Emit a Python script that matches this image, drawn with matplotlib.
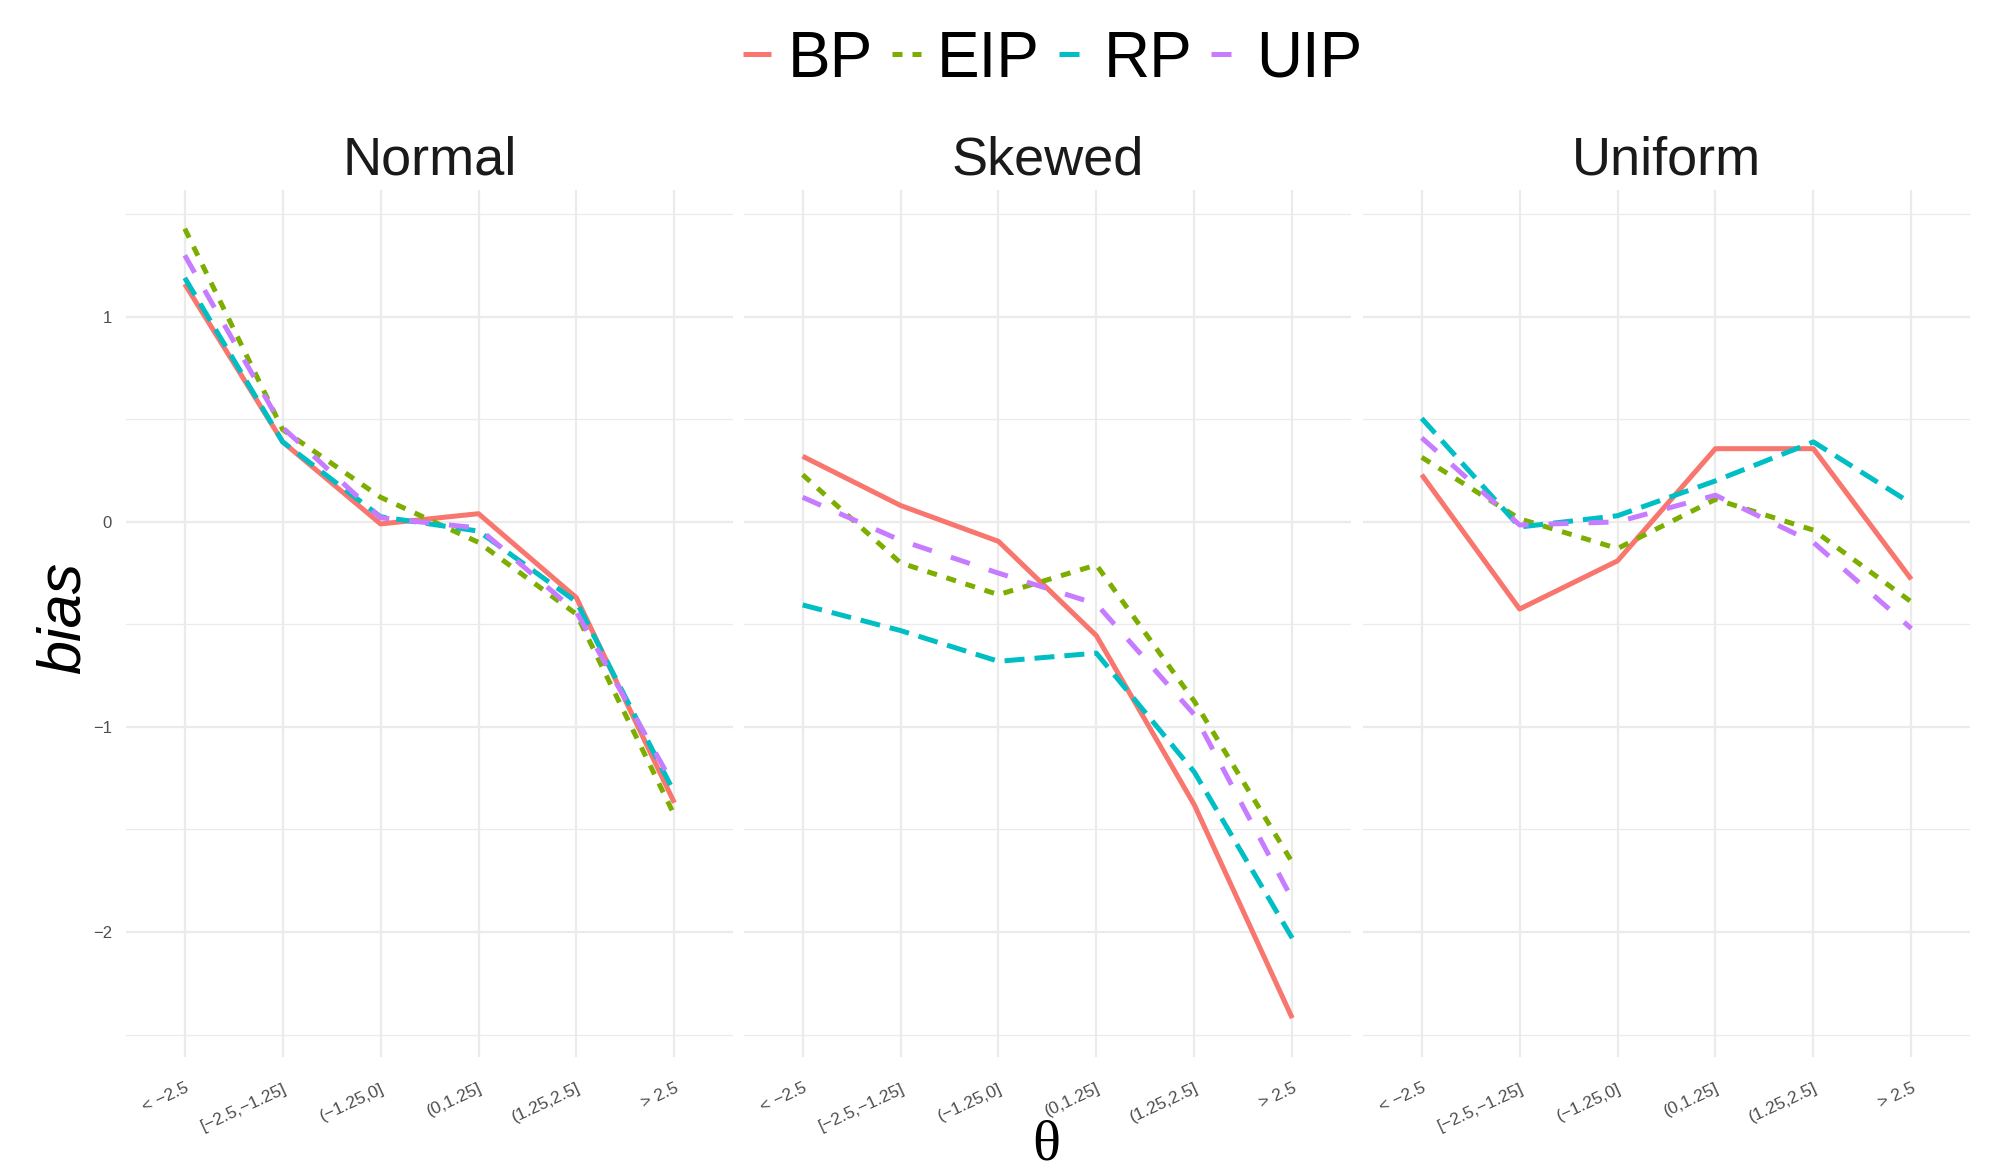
import matplotlib
matplotlib.use("Agg")
import matplotlib.pyplot as plt
from matplotlib.lines import Line2D
import numpy as np

plt.rcParams["font.family"] = ["Liberation Sans", "DejaVu Sans"]

categories = ["< \u22122.5", "[\u22122.5,\u22121.25]", "(\u22121.25,0]", "(0,1.25]", "(1.25,2.5]", "> 2.5"]
panels = ["Normal", "Skewed", "Uniform"]
methods = ["BP", "EIP", "RP", "UIP"]

normal_BP = [1.16, 0.39, -0.01, 0.04, -0.37, -1.37]
normal_EIP = [1.43, 0.45, 0.12, -0.10, -0.45, -1.43]
normal_RP = [1.19, 0.39, 0.025, -0.045, -0.39, -1.32]
normal_UIP = [1.30, 0.46, 0.02, -0.03, -0.44, -1.29]

skewed_BP = [0.32, 0.08, -0.095, -0.555, -1.38, -2.42]
skewed_EIP = [0.23, -0.20, -0.355, -0.21, -0.875, -1.66]
skewed_RP = [-0.405, -0.53, -0.68, -0.64, -1.22, -2.03]
skewed_UIP = [0.12, -0.09, -0.25, -0.40, -0.94, -1.84]

uniform_BP = [0.23, -0.425, -0.19, 0.357, 0.357, -0.28]
uniform_EIP = [0.315, 0.015, -0.13, 0.11, -0.04, -0.39]
uniform_RP = [0.505, -0.025, 0.03, 0.20, 0.39, 0.09]
uniform_UIP = [0.41, -0.015, 0.00, 0.13, -0.10, -0.52]

data = {
    "Normal": [normal_BP, normal_EIP, normal_RP, normal_UIP],
    "Skewed": [skewed_BP, skewed_EIP, skewed_RP, skewed_UIP],
    "Uniform": [uniform_BP, uniform_EIP, uniform_RP, uniform_UIP],
}

colors = ["#F8766D", "#7CAE00", "#00BFC4", "#C77CFF"]
styles = ["-", (0, (2, 2)), (0, (4, 2)), (0, (4, 4))]
lw = 3.6

fig = plt.figure(figsize=(19.97, 11.71), dpi=100)
lefts = [0.0631, 0.3725, 0.6825]
width = 0.304
bottom, top = 0.0973, 0.838

x = np.arange(1, 7)
ylo, yhi = -2.61, 1.62
for i, p in enumerate(panels):
    ax = fig.add_axes([lefts[i], bottom, width, top - bottom])
    ax.set_xlim(0.4, 6.6)
    ax.set_ylim(ylo, yhi)
    for s in ax.spines.values():
        s.set_visible(False)
    ax.set_yticks([-2, -1, 0, 1])
    ax.set_yticks([-2.5, -1.5, -0.5, 0.5, 1.5], minor=True)
    ax.set_xticks(x)
    ax.grid(True, which="major", color="#EBEBEB", linewidth=1.6)
    ax.grid(True, which="minor", axis="y", color="#EBEBEB", linewidth=0.9)
    ax.tick_params(which="both", length=0)
    ax.set_axisbelow(True)
    ax.set_xticklabels(categories, rotation=25, ha="right", rotation_mode="anchor",
                       fontsize=12.5, color="#4D4D4D")
    ax.tick_params(axis="x", pad=17)
    if i == 0:
        ax.set_yticklabels(["\u22122", "\u22121", "0", "1"], fontsize=12, color="#4D4D4D")
        ax.tick_params(axis="y", pad=10)
    else:
        ax.set_yticklabels([])
    for k, m in enumerate(methods):
        ax.plot(x, data[p][k], color=colors[k], linestyle=styles[k], linewidth=lw,
                solid_capstyle="butt", dash_capstyle="butt")
    ax.set_title(p, fontsize=39, color="#1A1A1A", pad=11)

handles = [Line2D([0], [0], color=colors[k], linestyle=styles[k], linewidth=lw,
                  dash_capstyle="butt", solid_capstyle="butt") for k in range(4)]
fig.legend(handles, methods, loc="center", bbox_to_anchor=(0.527, 0.949), ncol=4,
           frameon=False, fontsize=46, handlelength=0.45, handletextpad=0.25,
           columnspacing=0.3)

fig.text(0.524, 0.022, "\u03b8", fontsize=42, family="Liberation Serif", ha="center", va="center")
fig.text(0.032, 0.472, "bias", fontsize=44, style="italic", rotation=90, ha="center", va="center")

fig.savefig("out.png", dpi=100)
